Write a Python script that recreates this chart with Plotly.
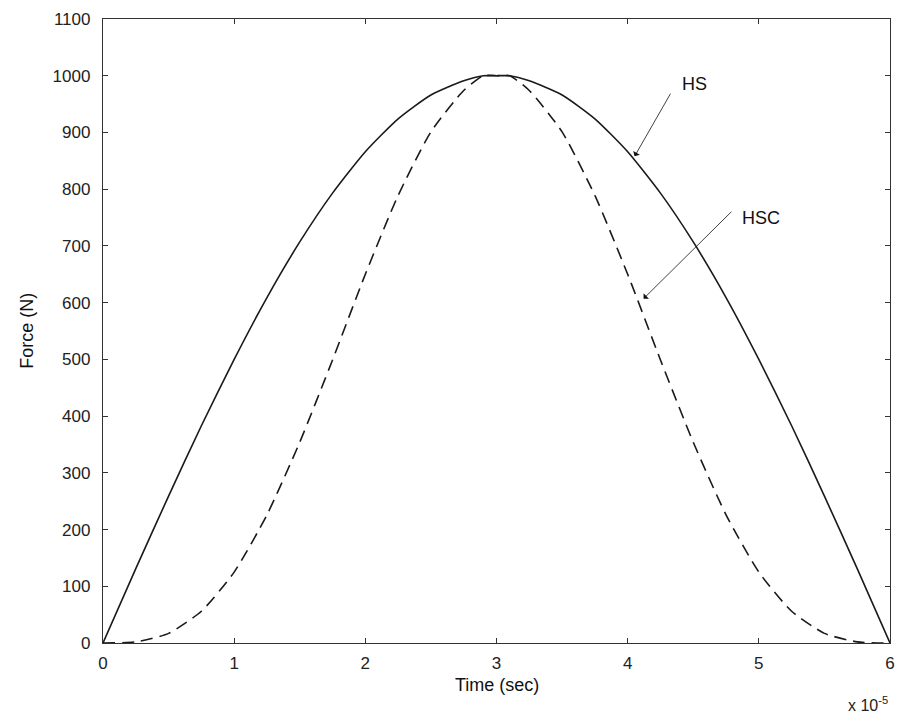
import plotly.graph_objects as go

# time in units of 1e-5 s
time = [0, 0.25, 0.5, 0.75, 1.0, 1.25, 1.5, 1.75, 2.0, 2.25, 2.5, 2.75, 2.9, 3.0, 3.1,
        3.25, 3.5, 3.75, 4.0, 4.25, 4.5, 4.75, 5.0, 5.25, 5.5, 5.75, 6.0]
hs = [0, 131, 259, 383, 500, 609, 707, 793, 866, 924, 966, 991, 1000, 1000, 1000,
      991, 966, 924, 866, 793, 707, 609, 500, 383, 259, 131, 0]
hsc = [0, 2, 17, 56, 125, 226, 354, 499, 650, 789, 901, 974, 1000, 1000, 1000,
       974, 901, 789, 650, 499, 354, 226, 125, 56, 17, 2, 0]

x_ticks = [0, 1, 2, 3, 4, 5, 6]
y_ticks = list(range(0, 1101, 100))

fig = go.Figure()
fig.add_trace(go.Scatter(x=time, y=hs, mode="lines",
                         line=dict(color="#1a1a1a", width=1.6, shape="spline", smoothing=0.6), name="HS"))
fig.add_trace(go.Scatter(x=time, y=hsc, mode="lines",
                         line=dict(color="#1a1a1a", width=1.6, dash="12px,7px", shape="spline", smoothing=0.6),
                         name="HSC"))

FAM = "Liberation Sans, Arial, sans-serif"
tickfont = dict(family=FAM, size=17, color="#222222")
font = dict(family=FAM, size=18, color="#111111")

axis_common = dict(showline=True, linecolor="#333333", linewidth=1.3, mirror="allticks",
                   ticks="inside", ticklen=5, tickcolor="#333333", tickwidth=1,
                   showgrid=False, zeroline=False, tickfont=tickfont, ticklabeloverflow="allow")

fig.update_layout(
    width=902, height=716,
    margin=dict(l=103, r=7, t=19, b=73),
    plot_bgcolor="white", paper_bgcolor="white",
    showlegend=False,
    xaxis=dict(range=[0, 6], tickvals=x_ticks, ticktext=[str(v) for v in x_ticks],
               ticklabelstandoff=4, **axis_common),
    yaxis=dict(range=[0, 1100], tickvals=y_ticks, ticktext=[str(v) for v in y_ticks],
               ticklabelstandoff=8, **axis_common),
    annotations=[
        dict(x=4.053, y=858, ax=4.333, ay=971, xref="x", yref="y", axref="x", ayref="y",
             showarrow=True, arrowhead=1, arrowsize=1.6, arrowwidth=0.8, arrowcolor="#111111", text=""),
        dict(x=4.51, y=985, xref="x", yref="y", text="HS", showarrow=False, font=font),
        dict(x=4.121, y=607, ax=4.803, ay=763, xref="x", yref="y", axref="x", ayref="y",
             showarrow=True, arrowhead=1, arrowsize=1.6, arrowwidth=0.8, arrowcolor="#111111", text=""),
        dict(x=5.02, y=749, xref="x", yref="y", text="HSC", showarrow=False, font=font),
        dict(x=0.5, y=-0.068, xref="paper", yref="paper", text="Time (sec)", showarrow=False,
             font=font, yanchor="middle"),
        dict(x=-0.097, y=0.5, xref="paper", yref="paper", text="Force (N)", showarrow=False, textangle=-90,
             font=font, xanchor="center"),
        dict(x=1.0, y=-0.078, xref="paper", yref="paper", text="x 10<sup>-5</sup>", showarrow=False,
             font=dict(family=FAM, size=16, color="#222222"), xanchor="right", yanchor="top"),
    ],
)

fig.write_html("out.html")
